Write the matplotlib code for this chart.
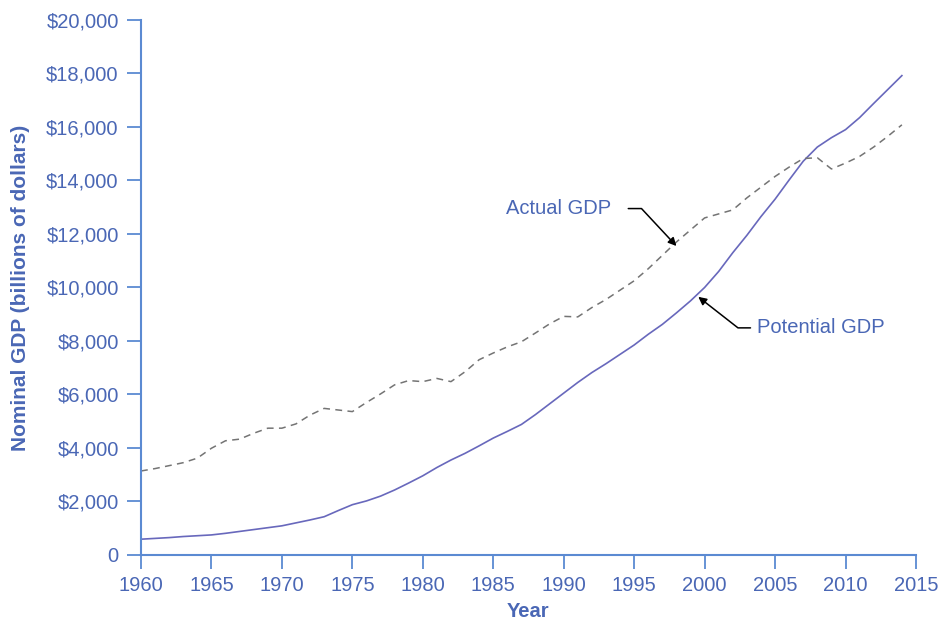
import matplotlib
matplotlib.use("Agg")
import matplotlib.pyplot as plt
from matplotlib.ticker import FuncFormatter

plt.rcParams["font.family"] = ["Liberation Sans", "DejaVu Sans"]

TEXT_BLUE = "#4a67b5"
AXIS_BLUE = "#5b8ad2"
SOLID_COL = "#6868bc"
DASH_COL = "#747474"

years = list(range(1960, 2015))

# billions of dollars
actual_gdp = [
    3140, 3230, 3340, 3450, 3620, 3990, 4270, 4330, 4550, 4740,
    4740, 4900, 5230, 5480, 5420, 5360, 5700, 6020, 6360, 6520,
    6480, 6600, 6480, 6850, 7300, 7550, 7780, 7970, 8300, 8640,
    8920, 8900, 9250, 9550, 9900, 10250, 10700, 11200, 11700, 12150,
    12600, 12750, 12900, 13350, 13750, 14150, 14500, 14820, 14850, 14430,
    14650, 14900, 15250, 15650, 16080,
]
potential_gdp = [
    590, 620, 650, 690, 720, 750, 810, 880, 950, 1020,
    1090, 1200, 1310, 1430, 1660, 1880, 2020, 2200, 2430, 2690,
    2960, 3270, 3550, 3800, 4080, 4370, 4620, 4880, 5250, 5650,
    6050, 6450, 6820, 7150, 7500, 7850, 8250, 8620, 9050, 9500,
    10000, 10600, 11300, 11950, 12650, 13300, 14020, 14720, 15250, 15600,
    15900, 16350, 16880, 17400, 17920,
]

x_ticks = list(range(1960, 2016, 5))
y_ticks = list(range(0, 20001, 2000))

fig = plt.figure(figsize=(9.41, 6.24), dpi=100)
ax = fig.add_axes([0.1498, 0.1106, 0.8236, 0.8574])

ax.plot(years, potential_gdp, color=SOLID_COL, lw=1.2)
ax.plot(years, actual_gdp, color=DASH_COL, lw=1.1, linestyle=(0, (4.5, 3.5)))

ax.set_xlim(1960, 2015)
ax.set_ylim(0, 20000)
ax.set_xticks(x_ticks)
ax.set_yticks(y_ticks)
ax.yaxis.set_major_formatter(FuncFormatter(lambda v, _: "0" if v == 0 else f"${v:,.0f}"))

for side in ("top", "right"):
    ax.spines[side].set_visible(False)
for side in ("left", "bottom"):
    ax.spines[side].set_color(AXIS_BLUE)
    ax.spines[side].set_linewidth(1.5)
ax.tick_params(axis="both", colors=AXIS_BLUE, labelcolor=TEXT_BLUE,
               labelsize=14.5, length=10, width=1.3, direction="out")
ax.tick_params(axis="y", pad=6)
ax.tick_params(axis="x", pad=5)

ax.set_xlabel("Year", fontsize=14.5, fontweight="bold", color=TEXT_BLUE, va="top")
ax.xaxis.set_label_coords(0.5, -0.088)
ax.set_ylabel("Nominal GDP (billions of dollars)", fontsize=15, fontweight="bold",
              color=TEXT_BLUE, va="center")
ax.yaxis.set_label_coords(-0.156, 0.5)

arrow = dict(arrowstyle="-|>", color="black", lw=1.1, mutation_scale=12)
ax.annotate("Actual GDP", xy=(1998.0, 11550), xytext=(1993.4, 12950),
            ha="right", va="center", fontsize=14.5, color=TEXT_BLUE,
            arrowprops=dict(arrow, shrinkA=10, shrinkB=0,
                            connectionstyle="angle,angleA=0,angleB=-47,rad=0"))
ax.annotate("Potential GDP", xy=(1999.55, 9650), xytext=(2003.75, 8490),
            ha="left", va="center", fontsize=14.5, color=TEXT_BLUE,
            arrowprops=dict(arrow, shrinkA=3, shrinkB=0,
                            connectionstyle="angle,angleA=180,angleB=142,rad=0"))

fig.savefig("out.png", dpi=100)
